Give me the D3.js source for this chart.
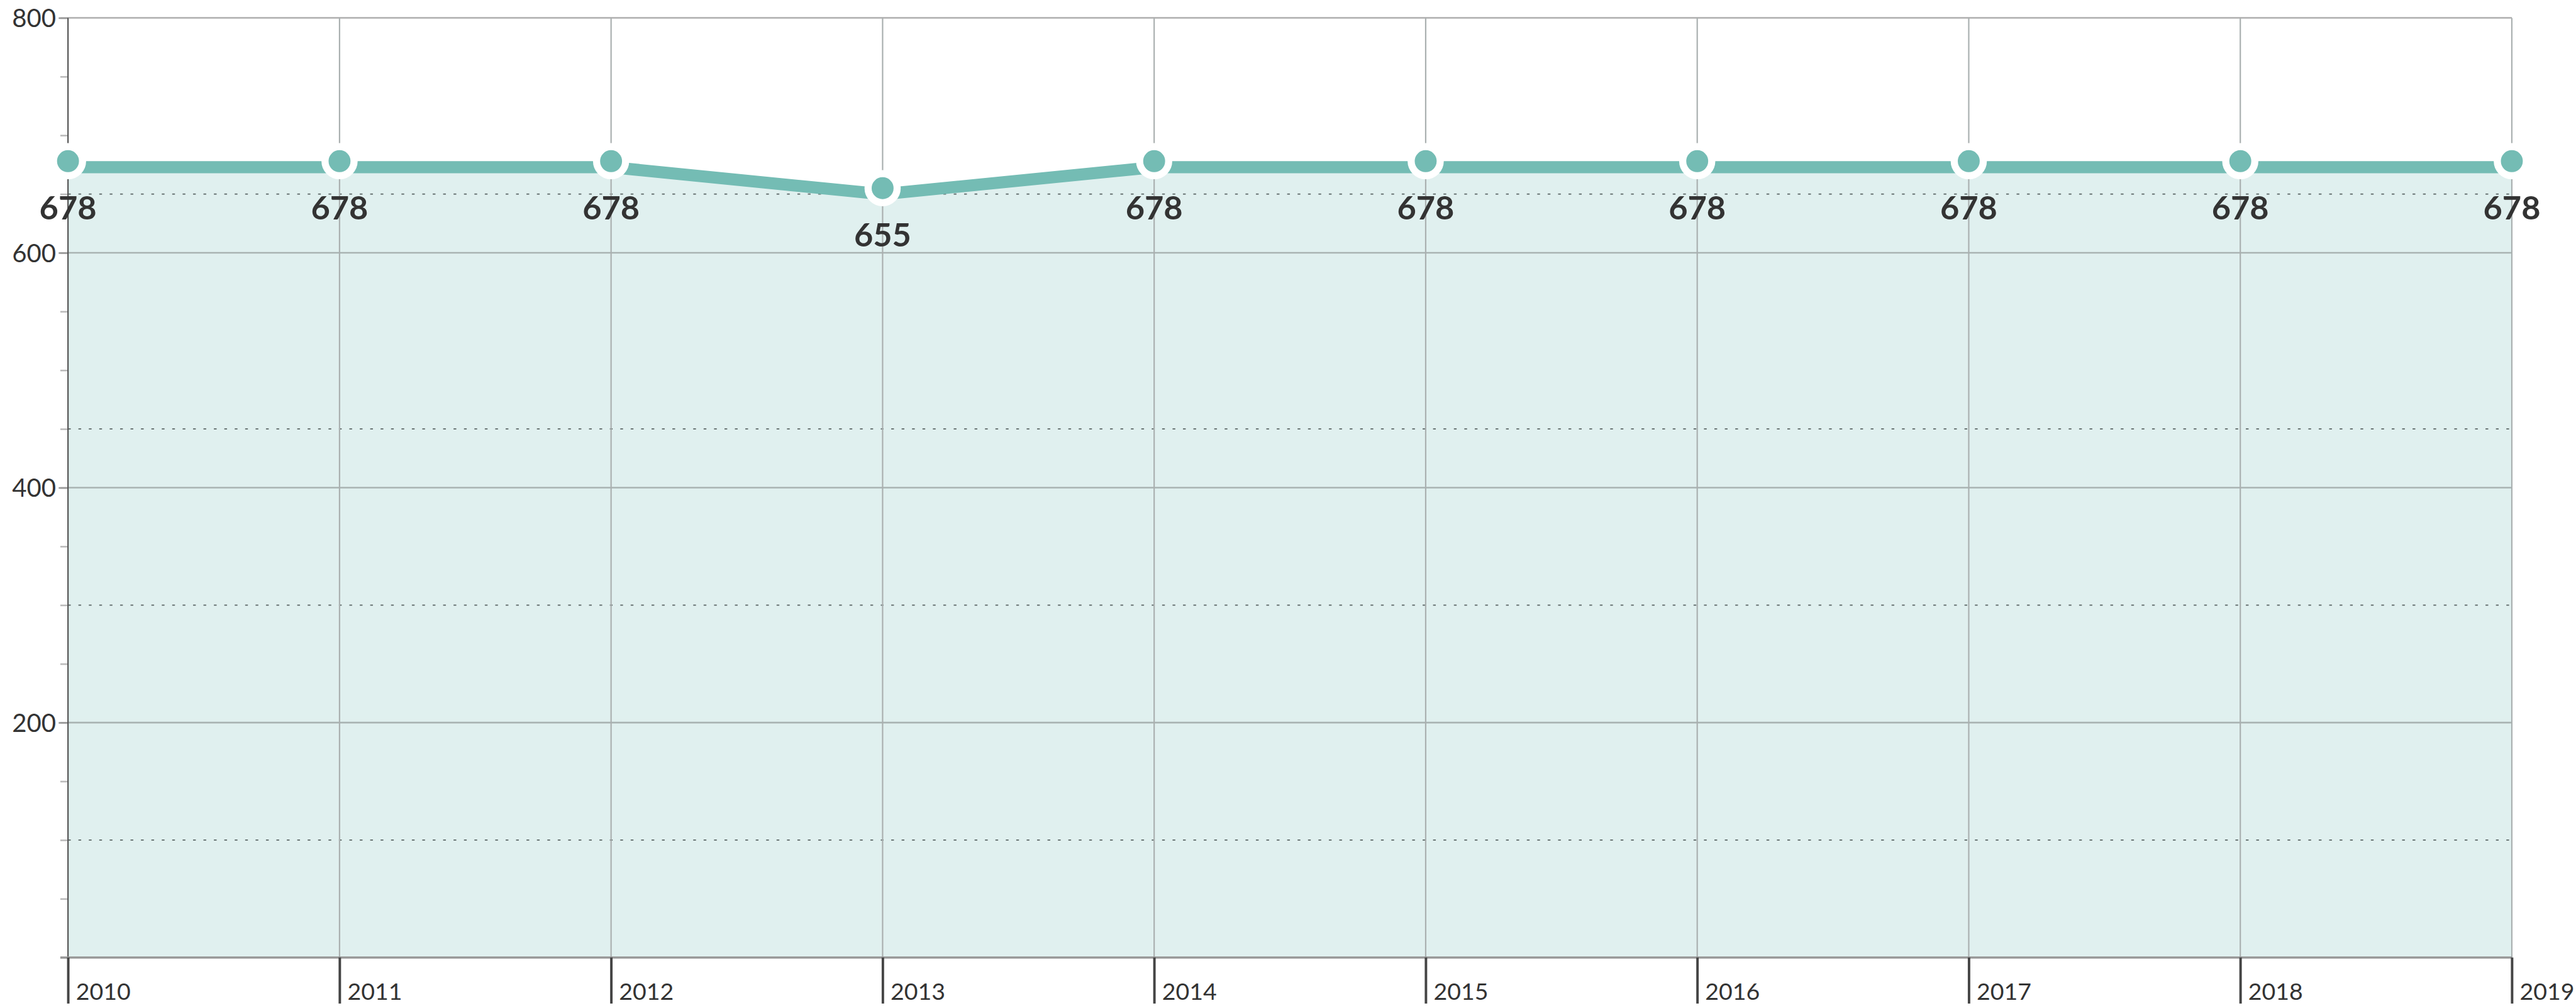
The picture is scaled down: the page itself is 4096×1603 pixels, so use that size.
<!DOCTYPE html>
<html lang="en">
<head>
    <meta charset="utf-8">
    <title>Line chart 2010-2019</title>
    <script src="https://cdn.jsdelivr.net/npm/d3@7"></script>
    <style>
        html, body { margin: 0; padding: 0; background: #fff; }
        text { font-family: Lato, "Open Sans", sans-serif; fill: #333; }
    </style>
</head>
<body>
<script>
    // data
    var years = ["2010", "2011", "2012", "2013", "2014", "2015", "2016", "2017", "2018", "2019"];
    var values = [678, 678, 678, 655, 678, 678, 678, 678, 678, 678];
    var yTicks = [200, 400, 600, 800];
    var minorTicks = d3.range(0, 801, 50);
    var refLines = [100, 300, 450, 650];

    // drawn in the reference's own units, then scaled down by the viewBox
    var W = 4697, H = 1838;
    var plotLeft = 124, plotRight = 4580, plotTop = 32.5, plotBottom = 1746;

    var svg = d3.select("body").append("svg")
        .attr("width", 4096).attr("height", 1603)
        .attr("viewBox", "0 0 " + W + " " + H)
        .style("display", "block");

    var x = d3.scalePoint().domain(years).range([plotLeft, plotRight]);
    var y = d3.scaleLinear().domain([0, 800]).range([plotBottom, plotTop]);

    var lineShift = 11; // the thick line sits a bit below the dots

    // area under the line
    var area = d3.area()
        .x(function (d, i) { return x(years[i]); })
        .y0(plotBottom)
        .y1(function (d) { return y(d) + lineShift; });
    svg.append("path").datum(values)
        .attr("d", area)
        .attr("fill", "#e0f0ef");

    // minor ticks on the left
    svg.append("g")
        .attr("transform", "translate(" + plotLeft + ",0)")
        .call(d3.axisLeft(y).tickValues(minorTicks).tickSize(14).tickFormat(""))
        .call(function (g) {
            g.select(".domain").remove();
            g.selectAll("line").attr("stroke", "#bbb").attr("stroke-width", 3);
        });

    // horizontal grid + labels
    svg.append("g")
        .attr("transform", "translate(" + plotLeft + ",0)")
        .call(d3.axisLeft(y).tickValues(yTicks).tickSize(17).tickPadding(5))
        .call(function (g) {
            g.select(".domain").remove();
            g.selectAll("line").attr("stroke", "#999").attr("stroke-width", 3);
            g.selectAll("text").attr("font-size", 46).attr("fill", "#333").attr("dy", "0.36em");
        });
    svg.append("g")
        .selectAll("line")
        .data(yTicks)
        .join("line")
        .attr("x1", plotLeft).attr("x2", plotRight)
        .attr("y1", function (d) { return y(d); })
        .attr("y2", function (d) { return y(d); })
        .attr("stroke", function (d) { return d === 800 ? "#b5b5b5" : "#a9b3b2"; })
        .attr("stroke-width", 3);

    // dotted reference lines
    svg.append("g")
        .selectAll("line")
        .data(refLines)
        .join("line")
        .attr("x1", plotLeft).attr("x2", plotRight)
        .attr("y1", function (d) { return y(d); })
        .attr("y2", function (d) { return y(d); })
        .attr("stroke", "#5a6464")
        .attr("stroke-width", 2)
        .attr("stroke-dasharray", "5,14");

    // vertical grid
    svg.append("g")
        .selectAll("line")
        .data(years.slice(1))
        .join("line")
        .attr("x1", function (d) { return x(d); })
        .attr("x2", function (d) { return x(d); })
        .attr("y1", plotTop).attr("y2", plotBottom)
        .attr("stroke", "#aab0b0")
        .attr("stroke-width", 2.5);

    // y axis line
    svg.append("line")
        .attr("x1", plotLeft).attr("x2", plotLeft)
        .attr("y1", plotTop).attr("y2", plotBottom)
        .attr("stroke", "#555").attr("stroke-width", 2.5);

    // bottom axis
    svg.append("line")
        .attr("x1", 110).attr("x2", plotRight)
        .attr("y1", plotBottom).attr("y2", plotBottom)
        .attr("stroke", "#999").attr("stroke-width", 4);

    svg.append("g")
        .attr("transform", "translate(0," + plotBottom + ")")
        .call(d3.axisBottom(x).tickSize(84).tickPadding(0))
        .call(function (g) {
            g.select(".domain").remove();
            g.selectAll("line").attr("stroke", "#444").attr("stroke-width", 4.5);
            g.selectAll("text")
                .attr("font-size", 43)
                .attr("text-anchor", "start")
                .attr("x", 14)
                .attr("y", 77)
                .attr("dy", 0)
                .attr("fill", "#333");
        });

    // the line
    var line = d3.line()
        .x(function (d, i) { return x(years[i]); })
        .y(function (d) { return y(d) + lineShift; });
    svg.append("path").datum(values)
        .attr("d", line)
        .attr("fill", "none")
        .attr("stroke", "#74bcb4")
        .attr("stroke-width", 22);

    // dots
    svg.append("g")
        .selectAll("circle")
        .data(values)
        .join("circle")
        .attr("cx", function (d, i) { return x(years[i]); })
        .attr("cy", function (d) { return y(d); })
        .attr("r", 26.5)
        .attr("fill", "#74bcb4")
        .attr("stroke", "#fff")
        .attr("stroke-width", 13);

    // value labels
    svg.append("g")
        .selectAll("text")
        .data(values)
        .join("text")
        .attr("x", function (d, i) { return x(years[i]); })
        .attr("y", function (d) { return y(d) + 106; })
        .attr("text-anchor", "middle")
        .attr("font-size", 60)
        .attr("font-weight", "bold")
        .attr("fill", "#333")
        .text(function (d) { return d; });
</script>
</body>
</html>
